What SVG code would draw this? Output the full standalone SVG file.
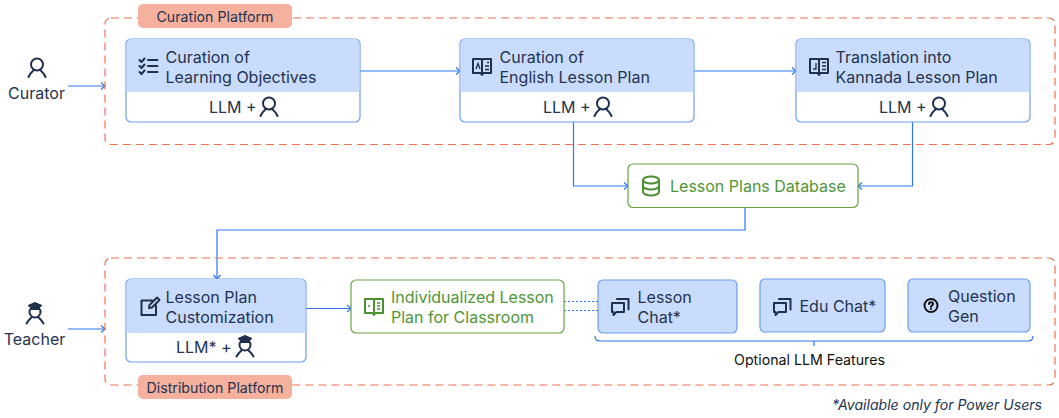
<svg xmlns="http://www.w3.org/2000/svg" width="1059" height="418" viewBox="0 0 1059 418">
<style>
text{font-family:Inter,"Noto Sans","Liberation Sans",sans-serif;fill:#24334f}
.t{font-size:16px}
.g{fill:#4f9636}
.l{font-size:14.200px}
.plat{fill:none;stroke:#f0714f;stroke-width:1.200;stroke-dasharray:8 5}
.tag{fill:#f6b09e}
.card{fill:#fff;stroke:#6d9eee;stroke-width:1.200}
.head{fill:#c9dcfd}
.full{fill:#c9dcfd;stroke:#6d9eee;stroke-width:1.200}
.gbox{fill:#fff;stroke:#65a444;stroke-width:1.200}
.c{fill:none;stroke:#2f76f2;stroke-width:1.200}
.d{fill:none;stroke:#2f76f2;stroke-width:1;stroke-dasharray:2 2}
.ic{fill:none;stroke:#1f2f4d;stroke-width:2;stroke-linecap:round;stroke-linejoin:round}
.ig{fill:none;stroke:#4a9130;stroke-width:2;stroke-linecap:round;stroke-linejoin:round}
.ib{fill:none;stroke:#111;stroke-width:2;stroke-linecap:round;stroke-linejoin:round}
</style>
<defs>
<marker id="a" viewBox="0 0 8 10" markerWidth="8" markerHeight="10" refX="7" refY="5" orient="auto" markerUnits="userSpaceOnUse"><path d="M3 1.500L7 5L3 8.500" fill="none" stroke="#2f76f2" stroke-width="1.200"/></marker>
<g id="person"><circle cx="0" cy="-3.500" r="6" class="ic"/><path d="M-8.500 9C-6.500 4.500 -4 3 -3.500 2.500M8.500 9C6.500 4.500 4 3 3.500 2.500" class="ic"/></g>
<g id="teacher"><circle cx="0" cy="-2" r="5.500" class="ic"/><path d="M-8.500 9.500C-6.500 6 -4.500 4.500 -3.500 3.500M8.500 9.500C6.500 6 4.500 4.500 3.500 3.500" class="ic"/><path d="M-7 -8.500L0 -11.500L7 -8.500L4.500 -6.500V-4.500H-4.500V-6.500Z" fill="#1f2f4d" stroke="#1f2f4d" stroke-width="1"/></g>
<g id="book"><path d="M-9 -7H-1L0 -6L1 -7H9V7H1.500L0 9L-1.500 7H-9Z" class="ic"/><path d="M0 -6V7" class="ic"/></g>
<g id="chat"><path d="M-3 -7H8.500V3.500M-8 -3H4V6H-3.500L-6.500 9V6H-8Z" class="ic"/></g>
<g id="db"><ellipse cx="0" cy="-6" rx="8" ry="3.500" class="ig"/><path d="M-8 -6V6C-8 8 -4 9.500 0 9.500C4 9.500 8 8 8 6V-6M-8 0C-8 2 -4 3.500 0 3.500C4 3.500 8 2 8 0" class="ig"/></g>
</defs>

<g id="connectors">
<path class="c" d="M68 86H105" marker-end="url(#a)"/>
<path class="c" d="M68 329H105" marker-end="url(#a)"/>
<path class="c" d="M360 71H460" marker-end="url(#a)"/>
<path class="c" d="M694 71H796" marker-end="url(#a)"/>
<path class="c" d="M573.500 122V186H628" marker-end="url(#a)"/>
<path class="c" d="M912.500 122V186H858" marker-end="url(#a)"/>
<path class="c" d="M745 207V230H217V279" marker-end="url(#a)"/>
<path class="c" d="M306 308.500H351" marker-end="url(#a)"/>
<path class="d" d="M564 301.500H598"/>
<path class="d" d="M564 310.500H598"/>
<path class="c" d="M595 336C595 340 597 341 600 341H1028C1031 341 1033 340 1033 336M814 341V346"/>
</g>

<g id="curation-platform">
<rect class="plat" x="105" y="18" width="950" height="126.500" rx="6"/>
<rect class="tag" x="138" y="4" width="154" height="24" rx="5"/>
<text class="l" x="215" y="22" text-anchor="middle">Curation Platform</text>
</g>
<g id="distribution-platform">
<rect class="plat" x="105" y="258" width="950" height="127" rx="6"/>
<rect class="tag" x="138" y="375" width="154" height="24" rx="5"/>
<text class="l" x="215" y="393" text-anchor="middle">Distribution Platform</text>
</g>

<g id="curator">
<use href="#person" x="37" y="68"/>
<text x="36.500" y="99" text-anchor="middle" style="font-size:16px">Curator</text>
</g>
<g id="teacher-node">
<use href="#teacher" x="35" y="314"/>
<text x="34.500" y="345" text-anchor="middle" style="font-size:16px">Teacher</text>
</g>

<g id="learning-objectives">
<rect class="card" x="126" y="39" width="234" height="83" rx="5"/>
<path class="head" d="M126.600 44a5 5 0 0 1 5-5H354.400a5 5 0 0 1 5 5V90a2 2 0 0 1-2 2H128.600a2 2 0 0 1-2-2Z"/>
<path class="ic" d="M139.500 60l2 2 3-3.500M139.500 66l2 2 3-3.500M139.500 72l2 2 3-3.500M148 60H157.500M148 66H157.500M148 72H157.500"/>
<text class="t" x="165.500" y="63">Curation of</text>
<text class="t" x="165.500" y="83">Learning Objectives</text>
<text class="t" x="209" y="113">LLM +</text>
<use href="#person" x="269" y="107"/>
</g>

<g id="english-plan">
<rect class="card" x="460" y="39" width="234" height="83" rx="5"/>
<path class="head" d="M460.600 44a5 5 0 0 1 5-5H688.400a5 5 0 0 1 5 5V90a2 2 0 0 1-2 2H462.600a2 2 0 0 1-2-2Z"/>
<use href="#book" x="482" y="66"/>
<path d="M476 69L478 63.500L480 69M487 62.500H489M485 66H489M485 69.500H489" fill="none" stroke="#1f2f4d" stroke-width="1.300"/>
<text class="t" x="499.500" y="63">Curation of</text>
<text class="t" x="499.500" y="83">English Lesson Plan</text>
<text class="t" x="543" y="113">LLM +</text>
<use href="#person" x="603" y="107"/>
</g>

<g id="kannada-plan">
<rect class="card" x="796" y="39" width="234" height="83" rx="5"/>
<path class="head" d="M796.600 44a5 5 0 0 1 5-5H1024.400a5 5 0 0 1 5 5V90a2 2 0 0 1-2 2H798.600a2 2 0 0 1-2-2Z"/>
<use href="#book" x="819" y="66"/>
<path d="M813 69H816V63M822 62.500H826M822 66H826M822 69.500H826" fill="none" stroke="#1f2f4d" stroke-width="1.300"/>
<text class="t" x="835.500" y="63">Translation into</text>
<text class="t" x="835.500" y="83">Kannada Lesson Plan</text>
<text class="t" x="879" y="113">LLM +</text>
<use href="#person" x="939" y="107"/>
</g>

<g id="database">
<rect class="gbox" x="628" y="164" width="230" height="43.500" rx="5"/>
<use href="#db" x="651" y="186"/>
<text class="t g" x="670" y="192">Lesson Plans Database</text>
</g>

<g id="customization">
<rect class="card" x="126" y="279" width="180" height="83" rx="5"/>
<path class="head" d="M126.600 284a5 5 0 0 1 5-5H300.400a5 5 0 0 1 5 5V331a2 2 0 0 1-2 2H128.600a2 2 0 0 1-2-2Z"/>
<path class="ic" d="M152 300.500H141.500V315H156V305.500M149 308L149.500 305L157 297.500L159.500 300L152 307.500Z"/>
<text class="t" x="165.500" y="303">Lesson Plan</text>
<text class="t" x="165.500" y="323">Customization</text>
<text class="t" x="176" y="353">LLM* +</text>
<use href="#teacher" x="245" y="347"/>
</g>

<g id="individualized">
<rect class="gbox" x="351" y="280" width="213" height="53" rx="5"/>
<path d="M365 299H373L374 300L375 299H383V313H375.500L374 315L372.500 313H365ZM374 300V313" class="ig"/>
<path d="M368 306H370M377 303H380M377 306H380M377 309H380" fill="none" stroke="#4a9130" stroke-width="1.300"/>
<text class="t g" x="391" y="303">Individualized Lesson</text>
<text class="t g" x="391" y="323">Plan for Classroom</text>
</g>

<g id="lesson-chat">
<rect class="full" x="598" y="280" width="139" height="53" rx="5"/>
<use href="#chat" x="620" y="306"/>
<text class="t" x="637.500" y="303">Lesson</text>
<text class="t" x="637.500" y="323">Chat*</text>
</g>
<g id="edu-chat">
<rect class="full" x="760" y="279" width="125" height="53" rx="5"/>
<use href="#chat" x="782" y="306"/>
<text class="t" x="799.500" y="312">Edu Chat*</text>
</g>
<g id="question-gen">
<rect class="full" x="908" y="279" width="122" height="53" rx="5"/>
<circle cx="931" cy="305.500" r="6.500" class="ib"/>
<path class="ib" stroke-width="1.500" d="M929 304C929 301.500 933 301.500 933 304C933 305.500 931 305.500 931 307M931 309V309.100"/>
<text class="t" x="948" y="302">Question</text>
<text class="t" x="948" y="322">Gen</text>
</g>

<text id="optional-label" class="l" x="809.500" y="365" text-anchor="middle" style="fill:#111">Optional LLM Features</text>
<text id="note" x="1042" y="410" text-anchor="end" font-style="italic" style="font-size:14.100px">*Available only for Power Users</text>
</svg>
